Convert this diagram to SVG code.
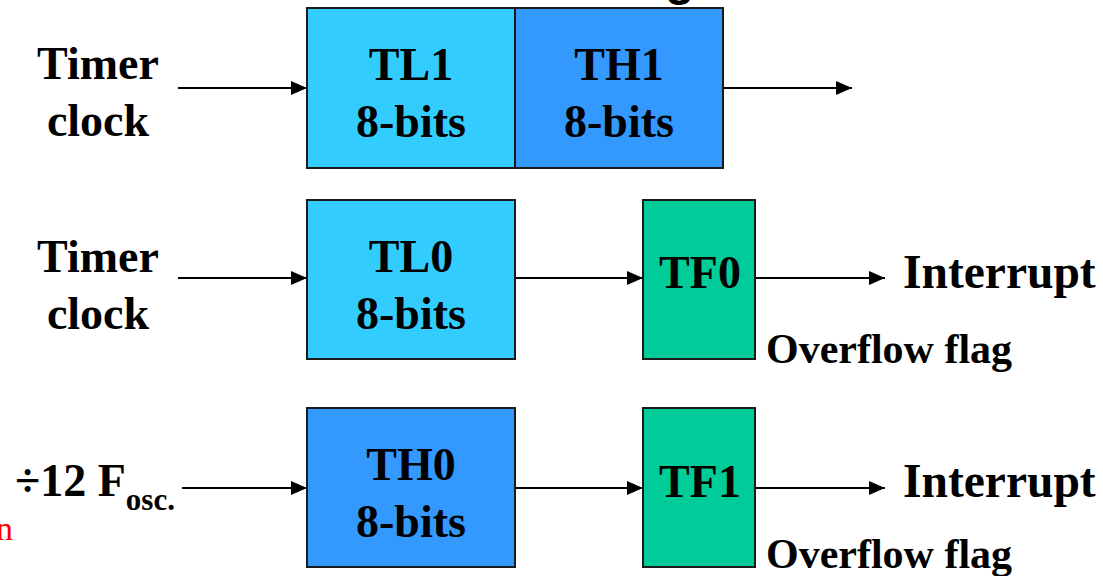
<svg xmlns="http://www.w3.org/2000/svg" width="1103" height="576" viewBox="0 0 1103 576">
<style>
.lbl{font-family:'Liberation Serif','Times New Roman',Times,serif;font-weight:700;fill:#000}
.big{font-size:46px}
.mid{font-size:46px}
.box{stroke:#1a1a1a;stroke-width:2}
.tl{fill:#33CCFF}
.th{fill:#3399FF}
.tf{fill:#00CC99}
.conn{stroke:#000;stroke-width:2;fill:none;marker-end:url(#ah)}
</style>
<defs>
<marker id="ah" markerUnits="userSpaceOnUse" markerWidth="16" markerHeight="14" refX="16" refY="7" orient="auto">
<path d="M0,0 L16,7 L0,14 z" fill="#000"/>
</marker>
</defs>
<rect width="1103" height="576" fill="#fff"/>
<text x="665" y="-5" font-family="'Liberation Sans',Arial,sans-serif" font-weight="bold" font-size="48">g</text>
<text x="13" y="540" text-anchor="end" font-family="'Liberation Serif',serif" font-size="34" fill="#ff0000">n</text>

<g id="connectors">
<line class="conn" x1="178" y1="88" x2="307" y2="88"/>
<line class="conn" x1="723" y1="88" x2="852" y2="88"/>
<line class="conn" x1="178" y1="278" x2="307" y2="278"/>
<line class="conn" x1="515" y1="278" x2="643" y2="278"/>
<line class="conn" x1="755" y1="278" x2="885" y2="278"/>
<line class="conn" x1="182" y1="488" x2="307" y2="488"/>
<line class="conn" x1="515" y1="488" x2="643" y2="488"/>
<line class="conn" x1="755" y1="488" x2="885" y2="488"/>
</g>

<g id="clock1"><text class="lbl big" x="98" y="79" text-anchor="middle">Timer</text><text class="lbl big" x="98" y="136" text-anchor="middle">clock</text></g>
<g id="tl1"><rect class="box tl" x="307" y="8" width="208" height="160"/><text class="lbl big" x="411" y="80" text-anchor="middle">TL1</text><text class="lbl big" x="411" y="137" text-anchor="middle">8-bits</text></g>
<g id="th1"><rect class="box th" x="515" y="8" width="208" height="160"/><text class="lbl big" x="619" y="80" text-anchor="middle">TH1</text><text class="lbl big" x="619" y="137" text-anchor="middle">8-bits</text></g>

<g id="clock0"><text class="lbl big" x="98" y="272" text-anchor="middle">Timer</text><text class="lbl big" x="98" y="329" text-anchor="middle">clock</text></g>
<g id="tl0"><rect class="box tl" x="307" y="200" width="208" height="159"/><text class="lbl big" x="411" y="272" text-anchor="middle">TL0</text><text class="lbl big" x="411" y="329" text-anchor="middle">8-bits</text></g>
<g id="tf0"><rect class="box tf" x="643" y="200" width="112" height="159"/><text class="lbl mid" x="700" y="288" text-anchor="middle">TF0</text></g>
<g id="int0"><text class="lbl" font-size="47.5" x="903" y="288">Interrupt</text><text class="lbl" font-size="42" x="766" y="363">Overflow flag</text></g>

<g id="fosc"><text class="lbl big" x="15" y="496">÷12 F<tspan font-size="31" dy="14">osc.</tspan></text></g>
<g id="th0"><rect class="box th" x="307" y="408" width="208" height="159"/><text class="lbl big" x="411" y="480" text-anchor="middle">TH0</text><text class="lbl big" x="411" y="537" text-anchor="middle">8-bits</text></g>
<g id="tf1"><rect class="box tf" x="643" y="408" width="112" height="159"/><text class="lbl mid" x="700" y="497" text-anchor="middle">TF1</text></g>
<g id="int1"><text class="lbl" font-size="47.5" x="903" y="497">Interrupt</text><text class="lbl" font-size="42" x="766" y="568">Overflow flag</text></g>
</svg>
